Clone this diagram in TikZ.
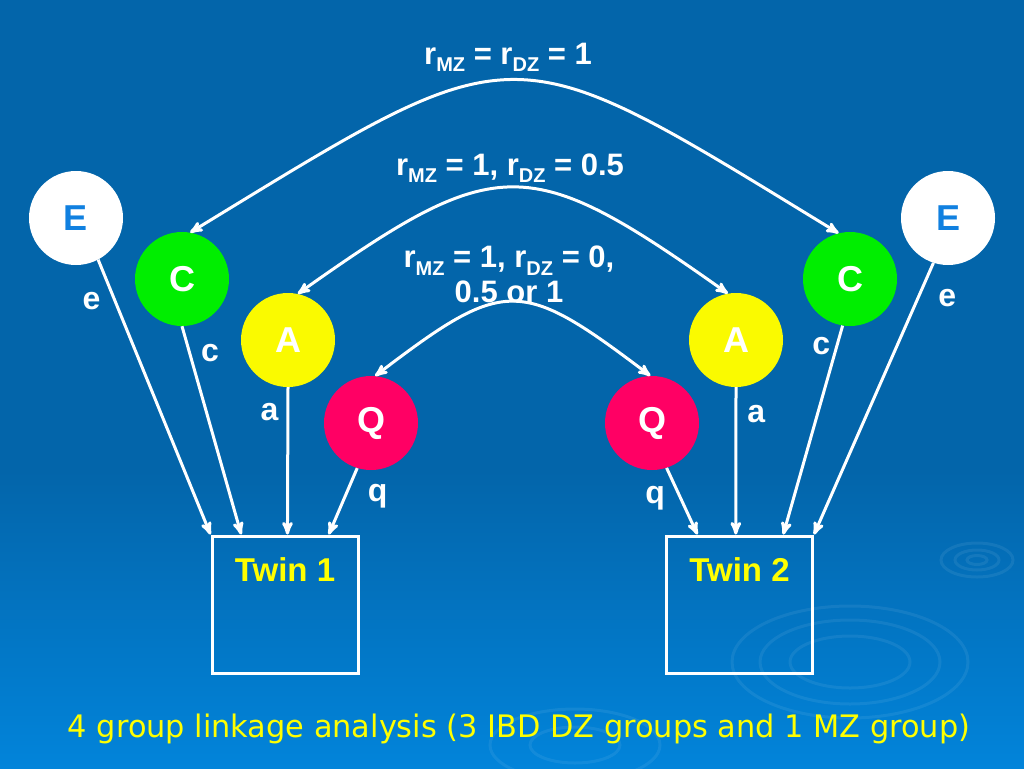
\documentclass[tikz,border=0pt]{standalone}
\usepackage{fontspec}
\setmainfont{Liberation Sans}
\newfontfamily\capfont{DejaVu Sans}
\usepackage{graphicx}
\usetikzlibrary{arrows}

\definecolor{bgtop}{RGB}{3,101,170}
\definecolor{bgbot}{RGB}{2,132,218}
\definecolor{eblue}{RGB}{16,128,224}
\definecolor{cgreen}{RGB}{0,238,0}
\definecolor{ayellow}{RGB}{250,250,0}
\definecolor{qred}{RGB}{255,0,100}
\definecolor{ylw}{RGB}{255,255,0}

\newcommand{\sbs}[1]{\raisebox{-0.24em}{\fontsize{20}{20}\selectfont #1}}

\tikzset{
  latent/.style={circle, minimum size=94pt, inner sep=0pt, text=white,
    font=\bfseries\fontsize{36}{36}\selectfont},
  twin/.style={draw=white, line width=3pt, minimum width=146pt, inner sep=0pt,
    text height=45pt, text depth=92pt, text=ylw,
    font=\bfseries\fontsize{33}{36}\selectfont},
  lbl/.style={inner sep=0pt, font=\bfseries\fontsize{32}{32}\selectfont},
  corr/.style={inner sep=0pt, text=white, align=center,
    font=\bfseries\fontsize{31}{35}\selectfont},
  ripple/.style={draw=white, opacity=.07, line width=3pt}
}

\begin{document}
\begin{tikzpicture}[x=1pt,y=-1pt,>=stealth']
  \useasboundingbox (0,0) rectangle (1024,768);
  \fill[bgtop] (0,0) rectangle (1024,768);
  \shade[top color=bgtop, bottom color=bgbot] (0,470) rectangle (1024,768);

  % ripples
  \draw[ripple] (977,560) ellipse (10 and 4.5);
  \draw[ripple] (977,560) ellipse (22 and 10);
  \draw[ripple] (977,560) ellipse (36 and 17);
  \draw[ripple] (850,662) ellipse (60 and 26);
  \draw[ripple] (850,662) ellipse (90 and 42);
  \draw[ripple] (850,662) ellipse (118 and 56);
  \draw[ripple] (575,745) ellipse (45 and 18);
  \draw[ripple] (575,745) ellipse (85 and 36);

  % twin 1
  \node[latent, fill=white, text=eblue] (El) at (76,218)  {E};
  \node[latent, fill=cgreen]            (Cl) at (182,279) {C};
  \node[latent, fill=ayellow]           (Al) at (288,340) {A};
  \node[latent, fill=qred]              (Ql) at (371,423) {Q};
  \node[twin] (t1) at (285,604.5) {Twin 1};

  % twin 2
  \node[latent, fill=white, text=eblue] (Er) at (948,218) {E};
  \node[latent, fill=cgreen]            (Cr) at (850,279) {C};
  \node[latent, fill=ayellow]           (Ar) at (736,340) {A};
  \node[latent, fill=qred]              (Qr) at (652,423) {Q};
  \node[twin] (t2) at (739.5,604.5) {Twin 2};

  \path[->, white, line width=3pt]
        (El.-62)   edge node[lbl, pos=.15,  left=13pt]  {e} (t1.north west)
        (Cl.south) edge node[lbl, pos=.13,  right=10pt] {c} (t1.122)
        (Al.south) edge node[lbl, pos=.17,  left=8pt]   {a} (t1.88)
        (Ql.253)   edge node[lbl, pos=.42,  right=21pt] {q} (t1.58)
        (Er.252)   edge node[lbl, pos=.13,  right=19pt] {e} (t2.north east)
        (Cr.261)   edge node[lbl, pos=.10,  left=5pt]   {c} (t2.58)
        (Ar.south) edge node[lbl, pos=.18,  right=10pt] {a} (t2.93)
        (Qr.288)   edge node[lbl, pos=.45,  left=14pt]  {q} (t2.121);

  % correlations
  \draw[<->, white, line width=3pt]
        (Cl.80) .. controls (524,29) and (504,29) .. (Cr.104);
  \draw[<->, white, line width=3pt]
        (Al.78) .. controls (498,152) and (528,152) .. (Ar.100);
  \draw[<->, white, line width=3pt]
        (Ql.85) .. controls (505,277) and (520,277) .. (Qr.92);

  \node[corr, anchor=base]  (r1) at (508,64)  {r\sbs{MZ} = r\sbs{DZ} = 1};
  \node[corr, anchor=base]  (r2) at (510,175) {r\sbs{MZ} = 1, r\sbs{DZ} = 0.5};
  \node[corr, anchor=north] (r3) at (509,246) {r\sbs{MZ} = 1, r\sbs{DZ} = 0,\\0.5 or 1};

  \node[inner sep=0pt, anchor=base, text=ylw] (cap) at (519,737)
    {\resizebox{902pt}{\height}{\capfont\fontsize{31}{31}\selectfont
     4 group linkage analysis (3 IBD DZ groups and 1 MZ group)}};
\end{tikzpicture}
\end{document}
